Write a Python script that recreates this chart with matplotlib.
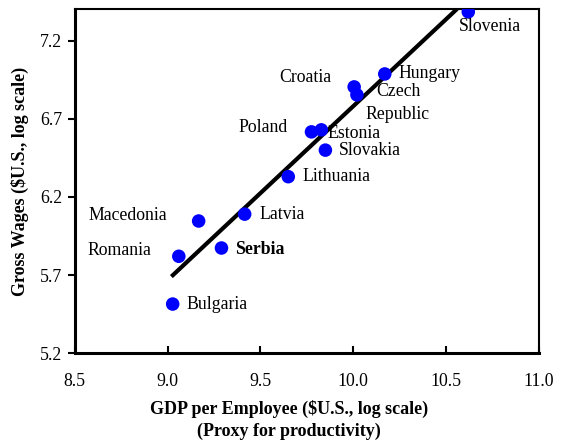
import matplotlib
matplotlib.use("Agg")
import matplotlib.pyplot as plt

plt.rcParams["font.family"] = ["Liberation Serif", "DejaVu Serif"]

# log GDP per employee vs log gross wages
countries = ["Slovenia", "Hungary", "Croatia", "Czech Republic", "Poland", "Estonia",
             "Slovakia", "Lithuania", "Latvia", "Macedonia", "Serbia", "Romania", "Bulgaria"]
gdp = [10.62, 10.17, 10.005, 10.02, 9.775, 9.828, 9.85, 9.65, 9.415, 9.167, 9.29, 9.06, 9.027]
wages = [7.386, 6.988, 6.905, 6.854, 6.617, 6.63, 6.50, 6.33, 6.09, 6.046, 5.873, 5.82, 5.514]

# fitted line endpoints
fit_x = [9.02, 10.56]
fit_y = [5.69, 7.405]

# label offsets in pixels (dx, dy, ha)
offsets = {
    "Slovenia": (-9, -15, "left"),
    "Hungary": (14, 0, "left"),
    "Croatia": (-23, 9, "right"),
    "Czech Republic": (19, 3, "left"),
    "Poland": (-24, 4, "right"),
    "Estonia": (6, -4, "left"),
    "Slovakia": (13, 0, "left"),
    "Lithuania": (14, 0, "left"),
    "Latvia": (15, 0, "left"),
    "Macedonia": (-32, 6, "right"),
    "Serbia": (14, -1, "left"),
    "Romania": (-27, 6, "right"),
    "Bulgaria": (14, 0, "left"),
}

fig = plt.figure(figsize=(5.63, 4.43), dpi=100)
ax = fig.add_axes([0.133, 0.203, 0.824, 0.777])

ax.plot(fit_x, fit_y, color="black", lw=3, solid_capstyle="butt", zorder=2)
ax.scatter(gdp, wages, s=95, color="#0000ff", edgecolor="none", zorder=3)

for name, x, y in zip(countries, gdp, wages):
    dx, dy, ha = offsets[name]
    weight = "bold" if name == "Serbia" else "normal"
    txt = "Czech" if name == "Czech Republic" else name
    ax.annotate(txt, (x, y), xytext=(dx, dy), textcoords="offset pixels",
                ha=ha, va="center", fontsize=12.8, fontweight=weight)
    if name == "Czech Republic":
        ax.annotate("Republic", (x, y), xytext=(9, -20), textcoords="offset pixels",
                    ha="left", va="center", fontsize=12.8)

ax.set_xlim(8.5, 11.0)
ax.set_ylim(5.2, 7.405)
ax.set_xticks([8.5, 9.0, 9.5, 10.0, 10.5, 11.0])
ax.set_yticks([5.2, 5.7, 6.2, 6.7, 7.2])
ax.set_xticklabels(["8.5", "9.0", "9.5", "10.0", "10.5", "11.0"])
ax.set_yticklabels(["5.2", "5.7", "6.2", "6.7", "7.2"])
ax.tick_params(axis="x", direction="in", length=5, width=1.5, labelsize=12.8, pad=14)
ax.tick_params(axis="y", direction="out", length=5, width=1.5, labelsize=12.8, pad=4)
ax.spines["left"].set_linewidth(2.2)
ax.spines["bottom"].set_linewidth(2.2)
ax.spines["top"].set_linewidth(1.5)
ax.spines["right"].set_linewidth(1.5)

ax.set_xlabel("GDP per Employee (\\$U.S., log scale)\n(Proxy for productivity)",
              fontsize=13, fontweight="bold", linespacing=1.3)
ax.xaxis.set_label_coords(0.461, -0.137)
ax.set_ylabel("Gross Wages (\\$U.S., log scale)", fontsize=13, fontweight="bold", labelpad=8)

fig.savefig("out.png", dpi=100)
